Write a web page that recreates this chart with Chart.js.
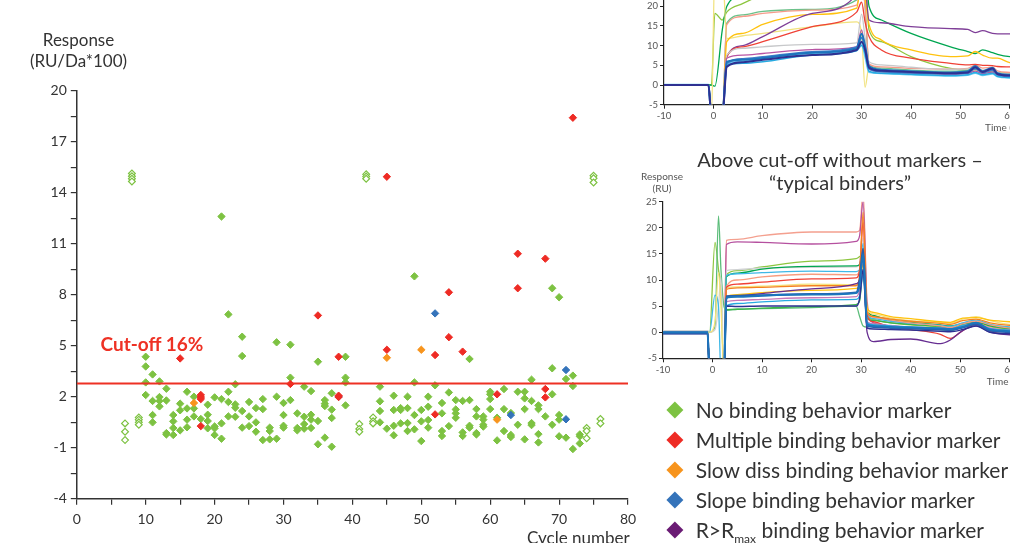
<!DOCTYPE html>
<html><head><meta charset="utf-8">
<script src="https://cdn.jsdelivr.net/npm/chart.js@4"></script>
<style>
html,body{margin:0;padding:0;overflow:hidden;background:#fff;}
#wrap{position:relative;width:1010px;height:543px;overflow:hidden;font-family:Lato,'Noto Sans',sans-serif;color:#333;}
canvas{position:absolute;}
.t{position:absolute;white-space:nowrap;}
.leg{position:absolute;left:663px;height:30px;line-height:30px;font-size:21px;padding-left:32.7px;white-space:nowrap;}
.dia{position:absolute;left:6.1px;top:9.1px;width:11.8px;height:11.8px;transform:rotate(45deg);}
</style></head><body><div id="wrap">
<canvas id="main" width="1010" height="543" style="left:0;top:0"></canvas>
<canvas id="topChart" width="500" height="190" style="left:620px;top:-40px"></canvas>
<canvas id="botChart" width="500" height="200" style="left:620px;top:190px"></canvas>

<div class="t" style="left:0;width:157px;text-align:center;top:28.5px;font-size:17px;line-height:21px">Response<br>(RU/Da*100)</div>
<div class="t" style="left:527px;top:528.9px;font-size:17px;line-height:17px">Cycle number</div>
<div class="t" style="left:100.5px;top:333.5px;font-size:19px;line-height:19px;font-weight:bold;color:#ee3124">Cut-off 16%</div>

<div class="t" style="left:985px;top:121.3px;font-size:10px;line-height:12px;color:#555">Time (s)</div>
<div class="t" style="left:640px;width:44px;text-align:center;top:170px;font-size:10px;line-height:12px;color:#555">Response<br>(RU)</div>
<div class="t" style="left:986.7px;top:374.6px;font-size:10px;line-height:12px;color:#555">Time (s)</div>
<div class="t" style="left:640px;width:400px;text-align:center;top:147.5px;font-size:20px;line-height:23px">Above cut-off without markers –<br>“typical binders”</div>

<div class="leg" style="top:395.3px"><span class="dia" style="background:#7dc242"></span>No binding behavior marker</div>
<div class="leg" style="top:425.3px"><span class="dia" style="background:#ee2b24"></span>Multiple binding behavior marker</div>
<div class="leg" style="top:455.3px"><span class="dia" style="background:#f7941d"></span>Slow diss binding behavior marker</div>
<div class="leg" style="top:485.3px"><span class="dia" style="background:#3473ba"></span>Slope binding behavior marker</div>
<div class="leg" style="top:515.3px"><span class="dia" style="background:#6a1b74"></span>R&gt;R<sub style="font-size:12px;line-height:0">max</sub> binding behavior marker</div>
</div>
<script>
// ---------------- Main scatter data ----------------
const cycleTickLabels = [0, 10, 20, 30, 40, 50, 60, 70, 80];
const responseTickLabels = [-4, -1, 2, 5, 8, 11, 14, 17, 20];
const cutOff = 2.78;

const referenceCycles = [7, 8, 9, 41, 42, 43, 74, 75, 76];
const referenceResp = [
  [0.43, -0.06, -0.55], [15.13, 14.97, 14.82, 14.66], [0.78, 0.65, 0.49, 0.35],
  [0.39, 0.1, -0.06], [15.08, 14.95, 14.82], [0.78, 0.55, 0.43],
  [0.16, -0.02, -0.45], [15.0, 14.85, 14.6], [0.69, 0.43]
];

const noMarkerCycles = [10,11,12,13,14,15,16,17,18,19,20,21,22,23,24,25,26,27,28,29,30,31,32,33,34,35,36,37,39,
  44,45,46,47,48,49,50,51,52,53,54,55,56,57,58,59,60,61,62,63,64,65,66,67,68,69,70,71,72,73];
const noMarkerResp = [
  [4.35,3.78,2.84,2.1],[3.31,1.75,0.92,0.49],[2.9,1.98,1.75,1.43],[2.47,1.78,-0.14,-0.22],
  [0.92,0.55,0.16,-0.25],[1.59,1.2,0.02],[2.29,1.31,0.65,0.2],[2.0,1.31,0.84],[0.69],
  [1.53,0.94,0.57,0.14],[1.96,0.25,0.14,-0.25],[12.6,1.86,0.43,-0.47],[6.84,2.29,1.69,0.84],
  [2.73,1.55,1.35,0.82],[5.53,4.39,1.16,0.18],[1.69,0.84,0.27],[1.33,0.49,-0.06],[1.86,1.27,-0.55],
  [0.18,-0.02,-0.51],[5.2,2.0,-0.47],[1.63,0.92,0.29,0.18],[5.06,3.12,1.8],[1.02,0.16,0.02],
  [2.59,0.82,0.39,0.12],[2.33,0.94,0.65,0.16],[4.06,0.57,-0.8],[1.8,1.59,1.45,-0.41],
  [2.2,1.24,0.75,-0.94],[4.35,3.12,2.84,1.49],
  [2.59,1.73,1.16,0.49],[0.12],[2.06,1.22,0.29,-0.27],[1.33,1.22,0.43],[2.0,1.33,0.45,-0.02],
  [9.08,2.84,0.92,0.08],[1.22,0.55,-0.61],[2.0,1.41,0.63,0.18],[2.67],[1.63,1.02,-0.02,-0.31],
  [2.25,0.27],[1.8,1.25,1.02,0.76],[1.75,-0.1,-0.31],[4.22,1.8,0.29,0.18],[1.27,0.84,-0.14,-0.22],
  [0.84,0.65,0.35,0.24],[2.29,2.14,1.86,1.27],[0.76,-0.57],[2.45,1.27,-0.02],[1.04,-0.25,-0.37],
  [2.29,0.35],[2.29,1.9,1.27,-0.51],[3.0,1.75,0.45,0.33],[1.49,1.27,-0.2,-0.69],[0.84],
  [8.38,3.67,2.14,0.35],[7.85,0.92,0.65,-0.33],[3.04,-0.41],[3.24,2.63,-1.08],[-0.22,-0.33,-0.75]
];

const multipleCycles = [15, 18, 31, 35, 38, 45, 52, 54, 56, 61, 64, 68, 72];
const multipleResp = [
  [4.25],[2.1,1.98,1.86,0.27],[2.75],[6.78],[4.35,2.06,1.98],[14.94,4.76],[4.45,0.96],
  [8.14,5.5],[4.65],[2.14],[10.41,8.38],[10.12,2.45,1.96],[18.41]
];

const slowDissCycles = [17, 45, 50, 61];
const slowDissResp = [[1.63],[4.29],[4.76],[0.65]];

const slopeCycles = [38, 52, 63, 71];
const slopeResp = [[2.0],[6.9],[0.92],[3.57,0.67]];

const rmaxCycles = [];
const rmaxResp = [];

function toPoints(cycles, resp) {
  return cycles.flatMap((c, i) => resp[i].map(r => ({x: c, y: r})));
}

// ---------------- Sensorgram data (top: above cut-off with markers) ----------------
const timeTop = [-10,-1,-0.4,0.3,1.8,2.7,6,10,20,29,30,30.7,31.5,34,40,48,51.5,53,54.5,56.5,57.5,60,70];
const topDarkBlue = [0,0,-8,-8,-8,4.6,5.8,6.4,7.6,8.9,11,9,4.4,3.6,3.3,3.0,3.2,4.5,3.3,4.2,2.8,2.4,2.0];
const topBlue = [0,0,-8,-8,-8,5.9,6.4,6.8,8.2,9.3,13,10,4.8,3.9,3.5,3.2,3.5,4.8,3.5,4.4,3.0,2.6,2.2];
const topRoyal = [0,0,-8,-8,-8,5.5,6.6,7.1,8.4,9.6,12,9.5,4.2,3.4,3.1,2.9,3.1,4.2,3.2,3.8,2.7,2.3,2.0];
const topCyan = [0,0,-8,-8,-8,5.1,5.5,5.9,7.6,8.7,10,8,3.5,3.0,2.7,2.4,2.6,3.2,2.6,3.0,2.2,1.9,1.7];
const topSky = [0.1,0.1,-8,-8,-8,5.3,6.0,6.6,8.0,9.0,10.5,7,3.2,2.9,2.6,2.3,2.5,3.0,2.4,2.8,2.1,1.8,1.6];
const topMagenta = [0,0,-8,-8,-8,6.8,7.6,8.0,9.0,9.7,14,9,4.0,3.4,3.0,2.7,2.9,3.5,2.9,3.3,2.5,2.1,1.9];
const topGrey = [0,0,-8,-8,-8,7.6,9.3,9.7,10.3,10.7,18,12,5.9,5.1,4.5,4.0,4.1,4.6,3.8,4.0,3.2,2.8,2.5];
const topRed = [0,0,-8,-8,-8,7.2,9.7,11.0,14.8,18.5,21,16,12.3,8.9,6.8,5.5,5.1,5.2,5.0,4.9,4.7,4.6,4.4];
const topPurple = [0,0,-8,-8,-8,7.2,10,12.3,18.2,23,30,26,16.5,15.8,14.8,14.3,14.1,13.3,13.8,13.1,13.0,13.0,12.8];
const topGold = [0,0,-8,-8,-8,11.0,13.1,15.4,17.9,19.5,26,22,15.4,11.4,8.9,7.2,7.4,8.5,7.6,6.8,6.8,5.7,5.2];
const topPale = [0,0,-8,30,30,11.8,12.5,13.1,14.8,16.0,13,-0.6,4.6,3.4,3.0,2.8,3.0,3.6,2.9,3.2,2.5,2.2,2.0];
const topSalmon = [0,0,-8,-8,-8,15.3,17.4,18.2,19.0,20.3,26,20,5.3,4.6,4.2,4.0,4.2,5.0,4.3,4.5,3.6,3.2,2.9];
const topSea = [0,0,-8,-8,-8,15.7,17.8,18.7,19.2,21.6,27,20,5.0,4.3,3.8,3.5,3.7,4.3,3.6,3.9,3.1,2.7,2.4];
const topDarkGreen = [0,0,0,-0.3,14,19.9,23,26,30,30,30,30,20,16.5,13.1,9.7,8.5,8.0,8.9,8.2,7.8,7.2,6.5];
const topLime = [0,0,0,18.2,16.5,18.5,20.7,23,28,30,30,28,14,11.0,7.2,4.2,3.8,3.9,3.4,3.5,3.2,3.0,2.8];

// ---------------- Sensorgram data (bottom: typical binders) ----------------
const timeBot = [-10,-1,-0.6,0.5,1.2,1.7,2.3,2.8,5,10,20,29,29.7,30.4,31.2,32.5,36,40,46,48,50.5,53.2,56,60,70];
const botSalmon = [0.2,0.2,-8,-8,-8,-8,-8,17.6,17.8,18.5,19.2,19.2,19.5,27,6,2.5,1.9,1.5,1.0,0.6,1.4,1.8,1.0,0.5,0.3];
const botMagenta = [0,0,-8,-8,-8,-8,-8,16.8,17.3,17.2,16.9,17.4,18.5,25,5,1.8,1.2,0.9,0.6,0.4,1.0,1.4,0.6,0.1,0];
const botLime = [0,0,0,17.2,12,8,-8,11.0,11.8,12.5,13.6,14.1,14.5,15,3.5,2.4,1.8,1.4,1.0,0.8,1.5,1.9,1.2,0.6,0.4];
const botSea = [0,0,0,1,22.3,12,5,4.2,4.4,4.5,4.7,5.0,3.0,1.2,1.0,1.5,1.2,0.8,0.5,0.3,1.0,1.5,0.6,0.2,0];
const botGrey = [0.3,0.3,0,0.5,5,10.5,-8,11.8,12.0,12.3,12.4,12.5,13,18,4,2.8,2.2,1.8,1.3,1.0,1.8,2.2,1.5,0.9,0.6];
const botDarkGreen = [0,0,-8,-8,-8,-8,-8,10.6,11.3,12.1,12.6,12.7,13,16,4.5,3.2,2.3,1.9,1.4,1.2,1.6,2.0,1.3,0.8,0.5];
const botCyan = [0,0,0,7.1,5,-8,-8,10.9,11.2,11.4,11.7,11.6,12,17,3.5,2.6,2.1,1.7,1.3,1.1,1.8,2.3,1.5,1.0,0.7];
const botPeach = [0,0,-8,-8,-8,-8,-8,8.8,10.0,10.6,11.1,11.0,12,22,4,2.9,2.3,1.8,1.2,0.9,1.6,2.1,1.4,0.8,0.5];
const botRed = [0,0,-8,-8,-8,-8,-8,8.6,9.2,9.6,10.2,10.4,12,21,3.2,2.0,1.0,0.5,-0.4,-1.2,0.3,1.5,0.2,-0.4,-0.5];
const botPale = [0,0,0,2,11.4,5,-8,8.5,8.7,8.8,9.2,9.1,10,12,4.3,3.5,2.7,2.2,1.9,1.7,2.5,3.0,2.2,1.5,1.2];
const botPurple = [0,0,-8,-8,-8,-8,-8,6.5,7.0,7.4,8.3,9.3,10,14,0,-1.8,-1.4,-1.3,-2.2,-1.5,0.3,1.2,0,-0.5,-0.6];
const botGold = [0,0,-8,-8,-8,-8,-8,6.8,7.2,7.6,8.0,8.4,9,13,4.6,3.8,3.0,2.6,2.0,1.9,2.7,2.8,2.3,2.0,1.8];
const botBlue = [0,0,-8,-8,-8,-8,-8,6.6,6.8,7.0,7.2,7.5,9,15,1.5,1.2,1.0,0.9,0.7,0.6,1.0,1.8,0.5,0.2,0.1];
const botBlue2 = [-0.2,-0.2,-8,-8,-8,-8,-8,6.9,7.0,7.1,7.3,7.6,10,16,1.2,1.0,0.8,0.7,0.5,0.4,0.9,1.5,0.3,0,-0.1];
const botOrchid = [0,0,-8,-8,-8,-8,-8,5.8,6.1,6.3,6.6,6.8,8,12,2.0,1.6,1.3,1.0,0.8,0.7,1.2,1.6,0.8,0.4,0.2];
const botAqua = [0,0,-8,-8,-8,-8,-8,5.0,5.5,5.8,6.2,6.3,7,11,1.8,1.4,1.2,1.0,0.8,0.6,1.3,1.6,0.7,0.4,0.2];
const botNavy = [-0.3,-0.3,-8,-8,-8,-8,-8,5.0,4.9,5.0,5.0,5.0,6.5,12,0.8,0.6,0.5,0.4,0.2,0.1,0.5,1.2,0,-0.3,-0.4];
const botGreen2 = [0,0,-8,-8,-8,-8,-8,4.3,4.4,4.6,4.9,5.3,6,12,2.6,2.2,1.8,1.5,1.1,1.0,1.6,2.1,1.2,0.7,0.5];
const botOrange = [0,0,-8,-8,-8,-8,-8,8.2,8.5,8.6,8.9,8.9,11,23,3.8,3.0,2.5,2.1,1.7,1.5,2.2,2.5,1.8,1.3,1.0];

const timeTickLabels = [-10, 0, 10, 20, 30, 40, 50, 60, 70, 80];
const sensorTickLabels = [-5, 0, 5, 10, 15, 20, 25];

// ---------------- Rendering ----------------
Chart.defaults.font.family = "Lato, 'Noto Sans', sans-serif";
Chart.defaults.animation = false;
const isLabel = (arr, v) => arr.some(t => Math.abs(t - v) < 1e-6);

const diamond = (data, color, order, hollow) => ({
  type: 'scatter', data, order,
  pointStyle: 'rectRot', pointRadius: hollow ? 3.4 : 3.7,
  backgroundColor: hollow ? '#ffffff' : color, borderColor: color,
  borderWidth: hollow ? 1.2 : 1, pointHoverRadius: 4
});

new Chart(document.getElementById('main'), {
  type: 'scatter',
  data: { datasets: [
    { type: 'line', data: [{x: 0, y: cutOff}, {x: 80, y: cutOff}], borderColor: '#ee3124', borderWidth: 2,
      pointRadius: 0, order: 0 },
    diamond(toPoints(multipleCycles, multipleResp), '#ee2b24', 1),
    diamond(toPoints(slowDissCycles, slowDissResp), '#f7941d', 2),
    diamond(toPoints(rmaxCycles, rmaxResp), '#6a1b74', 2),
    diamond(toPoints(slopeCycles, slopeResp), '#3473ba', 3),
    diamond(toPoints(noMarkerCycles, noMarkerResp), '#7dc242', 4),
    diamond(toPoints(referenceCycles, referenceResp), '#7dc242', 5, true)
  ]},
  options: {
    responsive: false, devicePixelRatio: 1,
    layout: { padding: { left: 0, top: 90.7, right: 382, bottom: 0 } },
    plugins: { legend: { display: false }, tooltip: { enabled: false } },
    scales: {
      x: { type: 'linear', min: 0, max: 80,
        afterFit: s => { s.height = 44.3; },
        border: { display: true, color: '#333', width: 1.5 },
        grid: { drawOnChartArea: false, drawTicks: true, tickLength: 6, color: '#333', lineWidth: 1.2 },
        ticks: { stepSize: 5, autoSkip: false, maxRotation: 0, padding: 6, color: '#333', font: { size: 14 },
          callback: v => isLabel(cycleTickLabels, v) ? String(Math.round(v)) : '' } },
      y: { type: 'linear', min: -4, max: 20,
        afterFit: s => { s.width = 76.8; },
        border: { display: true, color: '#333', width: 1.5 },
        grid: { drawOnChartArea: false, drawTicks: true, tickLength: 6, color: '#333', lineWidth: 1.2 },
        ticks: { stepSize: 1.5, autoSkip: false, padding: 4, color: '#333', font: { size: 14 },
          callback: v => isLabel(responseTickLabels, v) ? String(Math.round(v)) : '' } }
    }
  }
});

function sensorChart(id, times, series, yAxisWidth, pad) {
  new Chart(document.getElementById(id), {
    type: 'line',
    data: { labels: times, datasets: series.map(([vals, color, w]) => ({
      data: times.map((t, i) => ({x: t, y: vals[i]})), borderColor: color, borderWidth: w,
      pointRadius: 0, cubicInterpolationMode: 'monotone', fill: false })) },
    options: {
      responsive: false, devicePixelRatio: 1,
      layout: { padding: pad },
      plugins: { legend: { display: false }, tooltip: { enabled: false } },
      scales: {
        x: { type: 'linear', min: -10, max: 80,
          afterFit: s => { s.height = 20; },
          border: { display: true, color: '#222', width: 1.2 },
          grid: { drawOnChartArea: false, tickLength: 4, color: '#222' },
          ticks: { stepSize: 10, autoSkip: false, maxRotation: 0, padding: 2, color: '#555', font: { size: 9.5 },
            callback: v => isLabel(timeTickLabels, v) ? String(Math.round(v)) : '' } },
        y: { type: 'linear', min: -5, max: 25,
          afterFit: s => { s.width = yAxisWidth; },
          border: { display: true, color: '#222', width: 1.2 },
          grid: { drawOnChartArea: false, tickLength: 4, color: '#222' },
          ticks: { stepSize: 5, autoSkip: false, padding: 2, color: '#555', font: { size: 9.5 },
            callback: v => isLabel(sensorTickLabels, v) ? String(Math.round(v)) : '' } }
      }
    }
  });
}

sensorChart('topChart', timeTop, [
  [topDarkBlue, '#2e3192', 2], [topBlue, '#1c75bc', 2], [topRoyal, '#3d7cc9', 2],
  [topCyan, '#27aae1', 1.5], [topSky, '#6dcff6', 1.5], [topMagenta, '#b855a4', 1.3],
  [topGrey, '#c7c8ca', 1.3], [topRed, '#ef4136', 1.3], [topPurple, '#7f3f98', 1.3],
  [topGold, '#ffc20e', 1.3], [topPale, '#f1e27e', 1.3], [topSalmon, '#f69b8b', 1.3],
  [topSea, '#6cc18a', 1.3], [topDarkGreen, '#00a651', 1.3], [topLime, '#8dc63f', 1.3]
], 44, { left: 0, top: 26.5, right: 11.4, bottom: 25.3 });

sensorChart('botChart', timeBot, [
  [botBlue, '#1c75bc', 2], [botBlue2, '#2b5cab', 2], [botNavy, '#2e3192', 1.5],
  [botAqua, '#27aae1', 1.3], [botOrchid, '#c777b9', 1.3], [botPurple, '#662d91', 1.3],
  [botGold, '#ffc20e', 1.3], [botOrange, '#f58220', 1.3], [botRed, '#ef4136', 1.3],
  [botPale, '#f5e17a', 1.3], [botPeach, '#f79d7f', 1.3], [botCyan, '#3fb8e6', 1.3],
  [botDarkGreen, '#00a651', 1.3], [botGrey, '#d1d3d4', 1.3], [botGreen2, '#39b54a', 1.3],
  [botSea, '#5bbd7a', 1.3], [botLime, '#8dc63f', 1.3], [botMagenta, '#b5509f', 1.3],
  [botSalmon, '#f4a08f', 1.3]
], 43, { left: 0, top: 11.7, right: 11.2, bottom: 11.7 });
</script>
</body></html>
